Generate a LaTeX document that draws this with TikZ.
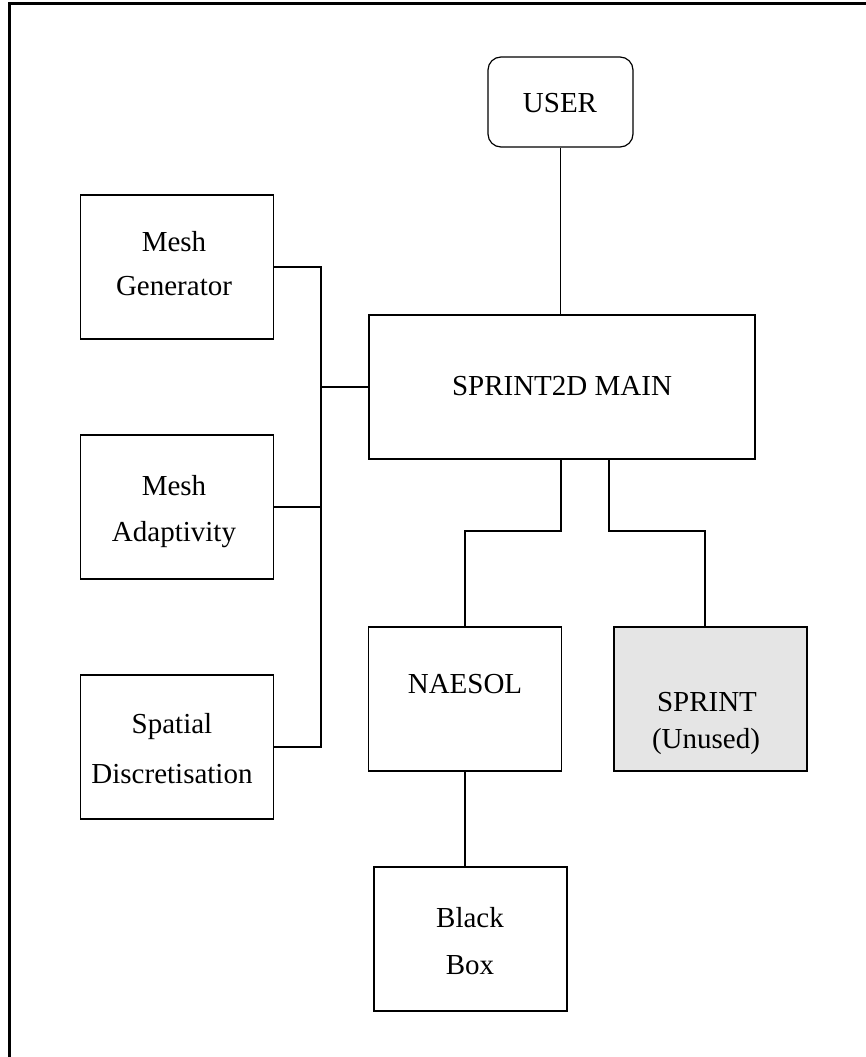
\documentclass[tikz,border=0pt]{standalone}
\usepackage{fontspec}
\setmainfont{Liberation Serif}
\usetikzlibrary{calc}
\definecolor{unusedgray}{HTML}{E5E5E5}
\begin{document}
\begin{tikzpicture}[x=1pt,y=-1pt,
  box/.style={draw=black,line width=1.2pt,rectangle,minimum width=193pt,minimum height=144pt,inner sep=0pt},
  ubox/.style={box,fill=unusedgray},
  userbox/.style={draw=black,line width=1.2pt,rectangle,rounded corners=13pt,minimum width=145pt,minimum height=90pt,inner sep=0pt},
  mainbox/.style={box,minimum width=386pt},
  txt/.style={anchor=base,inner sep=0pt,font=\fontsize{29}{35}\selectfont},
  conn/.style={draw=black,line width=1.2pt},
  frame/.style={draw=black,line width=2.5pt}
]
\useasboundingbox (0,0) rectangle (865,1057);
\draw[frame] (9.5,1060) -- (9.5,3.5) -- (870,3.5);

% boxes
\node[userbox] (user) at (560.5,102) {};
\node[mainbox] (main) at (562,387) {};
\node[box] (mg) at (177,267) {};
\node[box] (ma) at (177,507) {};
\node[box] (sd) at (177,747) {};
\node[box] (naesol) at (465,699) {};
\node[ubox] (sprint) at (710.5,699) {};
\node[box] (bb) at (470.5,939) {};

% texts
\node[txt] (usert) at (560,112) {USER};
\node[txt] (maint) at (562,395) {SPRINT2D MAIN};
\node[txt] (mgt1) at (174,251) {Mesh};
\node[txt] (mgt2) at (174,295) {Generator};
\node[txt] (mat1) at (174,495) {Mesh};
\node[txt] (mat2) at (174,541) {Adaptivity};
\node[txt] (sdt1) at (172,733) {Spatial};
\node[txt] (sdt2) at (172,783) {Discretisation};
\node[txt] (naesolt) at (465,693) {NAESOL};
\node[txt] (sprintt1) at (707,711) {SPRINT};
\node[txt] (sprintt2) at (706,748) {(Unused)};
\node[txt] (bbt1) at (470,927) {Black};
\node[txt] (bbt2) at (470,974) {Box};

% connectors
\coordinate (bus) at (321,387);
\coordinate (ml) at (561,459);
\coordinate (mr) at (609,459);
\coordinate (st) at (705,627);
\draw[conn] (user.south) -- (user.south |- main.north);
\draw[conn] (mg.east) -| (bus);
\draw[conn] (sd.east) -| (bus);
\draw[conn] (ma.east) -- (ma.east -| bus);
\draw[conn] (bus) -- (main.west);
\draw[conn] (ml) -- (561,531) -| (naesol.north);
\draw[conn] (mr) -- (609,531) -| (st);
\draw[conn] (naesol.south) -- (naesol.south |- bb.north);
\end{tikzpicture}
\end{document}
